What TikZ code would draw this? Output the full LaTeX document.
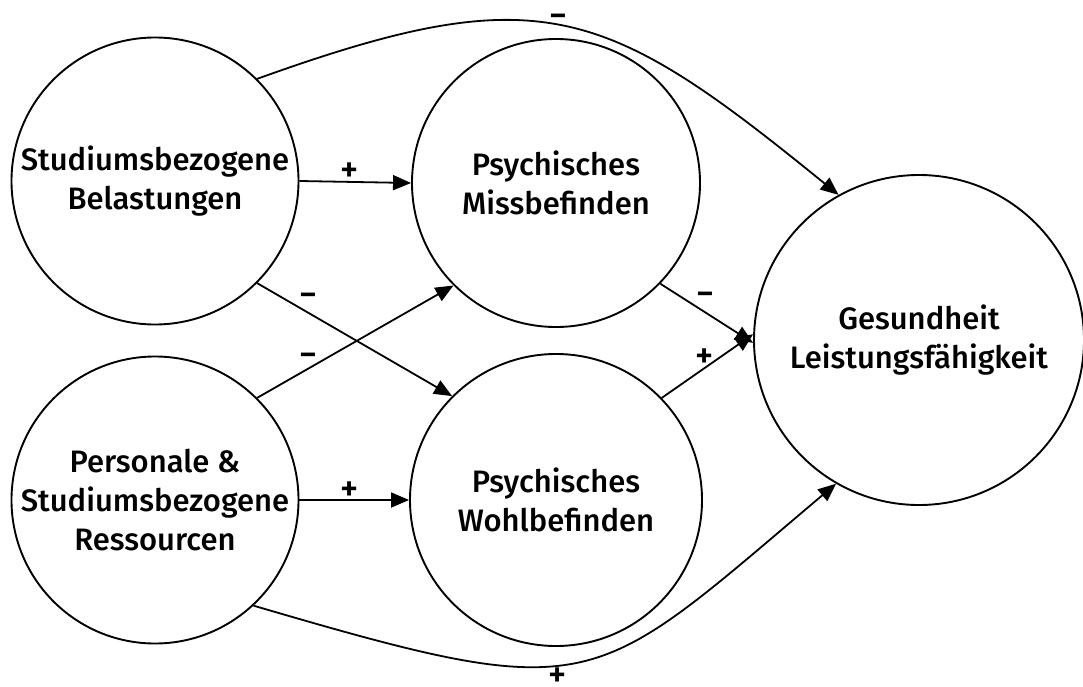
\documentclass[tikz,border=0pt]{standalone}
\usepackage{fontspec}
\setmainfont{Fira Sans}[BoldFont={Fira Sans Medium}]
\usetikzlibrary{arrows.meta}
\begin{document}
\begin{tikzpicture}[x=1pt,y=-1pt,
  bubble/.style={draw=black,line width=1.9pt,circle,inner sep=0pt,align=center,
     font=\fontsize{31}{39}\selectfont\bfseries},
  arr/.style={line width=1.8pt,-{Triangle[length=18pt,width=15pt]}},
  sign/.style={inner sep=0pt,font=\fontsize{35}{40}\selectfont\bfseries}]
\useasboundingbox (0,0) rectangle (1083,687);
\node[bubble,minimum size=287pt] (TL) at (155,181) {Studiumsbezogene\\Belastungen};
\node[bubble,minimum size=287pt] (BL) at (155,500) {Personale \&\\Studiumsbezogene\\Ressourcen};
\node[bubble,minimum size=288pt] (MT) at (556,183) {Psychisches\\Missbefinden};
\node[bubble,minimum size=292pt] (MB) at (556,500) {Psychisches\\Wohlbefinden};
\node[bubble,minimum size=330pt] (R) at (919,340) {Gesundheit\\Leistungsfähigkeit};
\draw[arr] (TL.east) -- (MT.west);
\draw[arr] (BL.east) -- (MB.west);
\draw[arr] (TL.-45) -- (MB.135);
\draw[arr] (BL.45) -- (MT.-135);
\draw[arr] (MT.-44) -- (R.181.5);
\draw[arr] (MB.44) -- (R.178.5);
\draw[arr] (TL.45) .. controls (540,-23) and (604,4) .. (R.119);
\draw[arr] (BL.-47) .. controls (599,707) and (589,692) .. (R.240);
\node[sign] (s1) at (350,172) {+};
\node[sign] (s2) at (350,491) {+};
\node[sign] (s3) at (308,300) {−};
\node[sign] (s4) at (308,360) {−};
\node[sign] (s5) at (705,299) {−};
\node[sign] (s6) at (705,358) {+};
\node[sign] (s7) at (558,21) {−};
\node[sign] (s8) at (558,677) {+};
\end{tikzpicture}
\end{document}
